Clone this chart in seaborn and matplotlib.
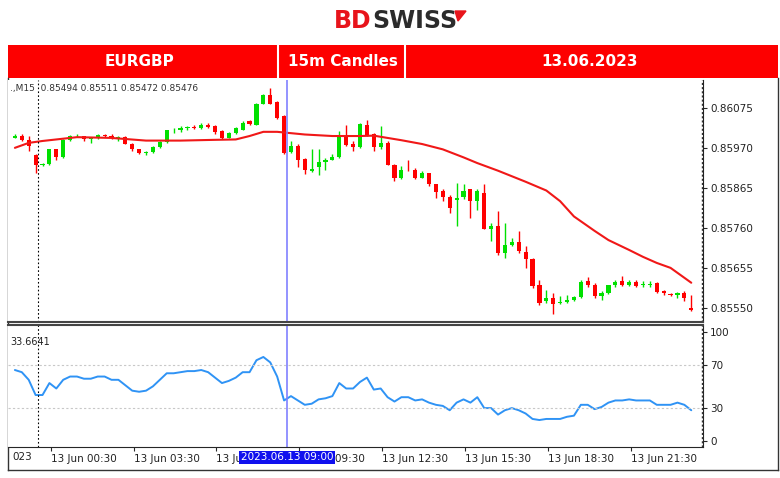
import numpy as np
import pandas as pd
import matplotlib
matplotlib.use("Agg")
import matplotlib.pyplot as plt
import seaborn as sns

# EURGBP 15m candles, 13.06.2023
opens = [0.85996, 0.86001, 0.85990, 0.85950, 0.85925, 0.85928, 0.85966, 0.85946, 0.85990, 0.86001,
         0.86001, 0.85992, 0.85995, 0.86003, 0.86001, 0.85995, 0.85998, 0.85981, 0.85966, 0.85957,
         0.85960, 0.85972, 0.85985, 0.86016, 0.86016, 0.86023, 0.86025, 0.86023, 0.86031, 0.86027,
         0.86014, 0.85996, 0.86008, 0.86018, 0.86040, 0.86031, 0.86085, 0.86108, 0.86090, 0.86053,
         0.85960, 0.85976, 0.85941, 0.85909, 0.85919, 0.85933, 0.85939, 0.85946, 0.86001, 0.85979,
         0.85973, 0.86031, 0.86005, 0.85972, 0.85983, 0.85926, 0.85891, 0.85913, 0.85913, 0.85891,
         0.85903, 0.85874, 0.85856, 0.85841, 0.85834, 0.85841, 0.85861, 0.85830, 0.85852, 0.85758,
         0.85764, 0.85693, 0.85716, 0.85722, 0.85697, 0.85677, 0.85610, 0.85568, 0.85575, 0.85563,
         0.85565, 0.85572, 0.85578, 0.85620, 0.85611, 0.85581, 0.85589, 0.85609, 0.85620, 0.85610,
         0.85618, 0.85611, 0.85611, 0.85616, 0.85594, 0.85587, 0.85583, 0.85589, 0.85550]
closes = [0.86002, 0.85990, 0.85974, 0.85925, 0.85928, 0.85966, 0.85946, 0.85990, 0.86001, 0.86002,
          0.85992, 0.85995, 0.86003, 0.86001, 0.85995, 0.85998, 0.85981, 0.85966, 0.85957, 0.85960,
          0.85972, 0.85985, 0.86016, 0.86017, 0.86023, 0.86024, 0.86022, 0.86031, 0.86025, 0.86012,
          0.85996, 0.86008, 0.86021, 0.86036, 0.86033, 0.86085, 0.86108, 0.86085, 0.86049, 0.85957,
          0.85976, 0.85939, 0.85911, 0.85915, 0.85933, 0.85939, 0.85946, 0.86001, 0.85977, 0.85973,
          0.86033, 0.86003, 0.85972, 0.85983, 0.85926, 0.85891, 0.85913, 0.85911, 0.85891, 0.85903,
          0.85874, 0.85855, 0.85841, 0.85813, 0.85839, 0.85856, 0.85830, 0.85856, 0.85758, 0.85764,
          0.85693, 0.85716, 0.85722, 0.85699, 0.85677, 0.85607, 0.85563, 0.85575, 0.85561, 0.85565,
          0.85572, 0.85578, 0.85618, 0.85610, 0.85581, 0.85589, 0.85609, 0.85618, 0.85610, 0.85618,
          0.85607, 0.85613, 0.85613, 0.85592, 0.85588, 0.85585, 0.85589, 0.85575, 0.85545]
highs = [0.86007, 0.86005, 0.86001, 0.85953, 0.85931, 0.85968, 0.85968, 0.85992, 0.86003, 0.86005,
         0.86002, 0.85998, 0.86005, 0.86007, 0.86005, 0.86001, 0.86001, 0.85983, 0.85968, 0.85963,
         0.85974, 0.85988, 0.86018, 0.86023, 0.86027, 0.86027, 0.86031, 0.86036, 0.86036, 0.86030,
         0.86016, 0.86012, 0.86024, 0.86040, 0.86044, 0.86088, 0.86112, 0.86128, 0.86092, 0.86056,
         0.85989, 0.85979, 0.85944, 0.85966, 0.85966, 0.85944, 0.85953, 0.86014, 0.86031, 0.85988,
         0.86036, 0.86044, 0.86009, 0.86027, 0.85988, 0.85928, 0.85922, 0.85939, 0.85918, 0.85909,
         0.85904, 0.85876, 0.85861, 0.85846, 0.85878, 0.85874, 0.85863, 0.85861, 0.85874, 0.85773,
         0.85804, 0.85773, 0.85734, 0.85751, 0.85712, 0.85680, 0.85624, 0.85598, 0.85589, 0.85581,
         0.85583, 0.85581, 0.85624, 0.85631, 0.85616, 0.85594, 0.85611, 0.85624, 0.85635, 0.85624,
         0.85622, 0.85620, 0.85620, 0.85618, 0.85596, 0.85589, 0.85592, 0.85594, 0.85585]
lows = [0.85995, 0.85988, 0.85963, 0.85904, 0.85922, 0.85926, 0.85939, 0.85944, 0.85988, 0.85998,
        0.85989, 0.85983, 0.85992, 0.85998, 0.85992, 0.85989, 0.85979, 0.85963, 0.85954, 0.85951,
        0.85957, 0.85970, 0.85983, 0.86009, 0.86012, 0.86016, 0.86020, 0.86020, 0.86023, 0.86005,
        0.85994, 0.85995, 0.86005, 0.86016, 0.86030, 0.86030, 0.86084, 0.86084, 0.86046, 0.85954,
        0.85957, 0.85919, 0.85902, 0.85907, 0.85900, 0.85913, 0.85937, 0.85944, 0.85974, 0.85963,
        0.85970, 0.86001, 0.85961, 0.85968, 0.85925, 0.85883, 0.85887, 0.85909, 0.85887, 0.85890,
        0.85869, 0.85839, 0.85830, 0.85799, 0.85764, 0.85837, 0.85786, 0.85808, 0.85756, 0.85725,
        0.85690, 0.85681, 0.85712, 0.85694, 0.85655, 0.85603, 0.85557, 0.85563, 0.85534, 0.85561,
        0.85562, 0.85568, 0.85576, 0.85606, 0.85576, 0.85572, 0.85587, 0.85606, 0.85607, 0.85607,
        0.85604, 0.85606, 0.85606, 0.85589, 0.85585, 0.85581, 0.85576, 0.85569, 0.85541]

# moving average, read at a few candle positions
ma_idx = [0, 2, 4, 9, 14, 19, 24, 29, 32, 34, 36, 38, 42, 46, 50, 52, 56, 59, 62, 65, 67, 70, 74, 77,
          79, 81, 84, 86, 89, 91, 93, 95, 98]
ma_vals = [0.85970, 0.85983, 0.85988, 0.85998, 0.85996, 0.85989, 0.85989, 0.85991, 0.85992, 0.86001,
           0.86012, 0.86012, 0.86005, 0.86001, 0.86001, 0.86002, 0.85990, 0.85980, 0.85966, 0.85945,
           0.85930, 0.85910, 0.85881, 0.85858, 0.85830, 0.85790, 0.85752, 0.85728, 0.85702, 0.85684,
           0.85668, 0.85655, 0.85616]

rsi = [65, 63, 56, 42, 42, 53, 48, 56, 59, 59, 57, 57, 59, 59, 56, 56, 51, 46, 45, 46,
       50, 56, 62, 62, 63, 64, 64, 65, 63, 58, 53, 55, 58, 63, 63, 74, 77, 72, 59, 37,
       41, 37, 33, 34, 38, 39, 41, 53, 48, 48, 54, 58, 47, 48, 40, 36, 40, 40, 37, 38,
       35, 33, 32, 28, 35, 38, 35, 40, 30, 30, 24, 28, 30, 28, 25, 20, 19, 20, 20, 20,
       22, 23, 33, 33, 29, 31, 35, 37, 37, 38, 37, 37, 37, 33, 33, 33, 35, 33, 28]

price_ticks = [0.85550, 0.85655, 0.85760, 0.85865, 0.85970, 0.86075]
rsi_ticks = [0, 30, 70, 100]
time_labels = ["13 Jun 00:30", "13 Jun 03:30", "13 Jun 06:30", "13 Jun 09:30",
               "13 Jun 12:30", "13 Jun 15:30", "13 Jun 18:30", "13 Jun 21:30"]
time_pos = [5.2, 17.2, 29.2, 41.2, 53.2, 65.2, 77.2, 89.2]

sns.set_style("white")
plt.rcParams['font.family'] = ['DejaVu Sans']

W, H = 780, 478
fig = plt.figure(figsize=(W / 100, H / 100), dpi=100)

def box(x0, y0, x1, y1):
    return [x0 / W, 1 - y1 / H, (x1 - x0) / W, (y1 - y0) / H]

# logo
fig.text(372 / W, 1 - 21 / H, "BD", color="#e8141b", fontsize=17, fontweight="bold", ha="right", va="center")
fig.text(372 / W, 1 - 21 / H, "SWISS", color="#2b2b2b", fontsize=17, fontweight="bold", ha="left", va="center")
fig.patches.append(plt.Polygon([[455 / W, 1 - 11 / H], [466 / W, 1 - 11 / H], [458 / W, 1 - 21 / H]],
                               closed=True, color="#e8141b", transform=fig.transFigure))

# red header band
hdr = fig.add_axes(box(8, 45, 778, 78))
hdr.set_facecolor("#fd0000")
hdr.set_xlim(8, 778)
hdr.set_ylim(0, 1)
hdr.set_xticks([])
hdr.set_yticks([])
for s in hdr.spines.values():
    s.set_visible(False)
for xs in [278, 405]:
    hdr.axvline(xs, color="white", lw=1.5)
for xt, t in [(140, "EURGBP"), (343, "15m Candles"), (590, "13.06.2023")]:
    hdr.text(xt, 0.5, t, color="white", fontsize=11, fontweight="bold", ha="center", va="center")

# outer frame
frame = fig.add_axes(box(8, 78, 778, 470))
frame.set_xticks([])
frame.set_yticks([])
frame.patch.set_alpha(0)
for s in frame.spines.values():
    s.set_color("#333333")
    s.set_linewidth(1)
frame.spines["top"].set_visible(False)

x = np.arange(len(opens))
xlim = (-1.0, 99.7)
ax = fig.add_axes(box(8, 80, 703, 322))
o, c, h, l = map(np.array, (opens, closes, highs, lows))
up = c >= o
cols = np.where(up, "#00e000", "#ff0000")
ax.vlines(x, l, h, colors=cols, lw=1)
body = np.maximum(np.abs(c - o), 0.000012)
ax.bar(x, body, bottom=np.minimum(o, c), width=0.6, color=cols, linewidth=0)
sns.lineplot(x=ma_idx, y=ma_vals, ax=ax, color="#f01818", lw=1.5)
ax.set_xlim(*xlim)
ax.set_ylim(0.85513, 0.86148)
ax.yaxis.tick_right()
ax.set_yticks(price_ticks)
ax.set_yticklabels([f"{v:.5f}" for v in price_ticks], fontsize=7.5, color="#222222")
ax.tick_params(axis="y", length=3, pad=2, right=True)
ax.set_xticks([])
for s in ["left", "top"]:
    ax.spines[s].set_visible(False)
ax.spines["right"].set_color("#222222")
ax.spines["bottom"].set_color("#444444")
ax.spines["bottom"].set_linewidth(1.5)
ax.axvline(3.3, color="black", lw=0.8, ls=(0, (1.5, 2)))
ax.axvline(99.6, color="#333333", lw=1, ls=(0, (1.5, 1.5)))
ax.axvline(39.4, color="#8080ff", lw=1.2)
ax.text(0.003, 0.985, ".,M15  0.85494 0.85511 0.85472 0.85476", transform=ax.transAxes,
        fontsize=6.5, color="#333333", va="top")

ax2 = fig.add_axes(box(8, 325, 703, 447))
sns.lineplot(x=x, y=rsi, ax=ax2, color="#2f93f5", lw=1.4)
ax2.set_xlim(*xlim)
ax2.set_ylim(-5.8, 106.4)
for lv in [30, 70]:
    ax2.axhline(lv, color="#c8c8c8", lw=0.8, ls=(0, (2, 2)))
ax2.yaxis.tick_right()
ax2.set_yticks(rsi_ticks)
ax2.set_yticklabels([str(v) for v in rsi_ticks], fontsize=7.5, color="#222222")
ax2.tick_params(axis="y", length=3, pad=2, right=True)
ax2.set_xticks(time_pos)
ax2.set_xticklabels(time_labels, fontsize=7.5, color="#222222", ha="left")
ax2.tick_params(axis="x", length=3, pad=2, bottom=True)
ax2.spines["left"].set_visible(False)
ax2.spines["top"].set_color("#444444")
ax2.spines["top"].set_linewidth(1.5)
ax2.axvline(3.3, color="black", lw=0.8, ls=(0, (1.5, 2)))
ax2.axvline(99.6, color="#333333", lw=1, ls=(0, (1.5, 1.5)))
ax2.axvline(39.4, color="#8080ff", lw=1.2)
ax2.text(0.003, 0.9, "33.6641", transform=ax2.transAxes, fontsize=7, color="#222222", va="top")
ax2.text(-0.4, -0.045, "023", transform=ax2.get_xaxis_transform(), fontsize=7.5, color="#222222", va="top")
ax2.text(39.4, -0.045, "2023.06.13 09:00", transform=ax2.get_xaxis_transform(), fontsize=7.5,
         color="white", ha="center", va="top", zorder=10,
         bbox=dict(boxstyle="square,pad=0.15", fc="#1010ee", ec="none"))

fig.savefig("out.png", dpi=100)
